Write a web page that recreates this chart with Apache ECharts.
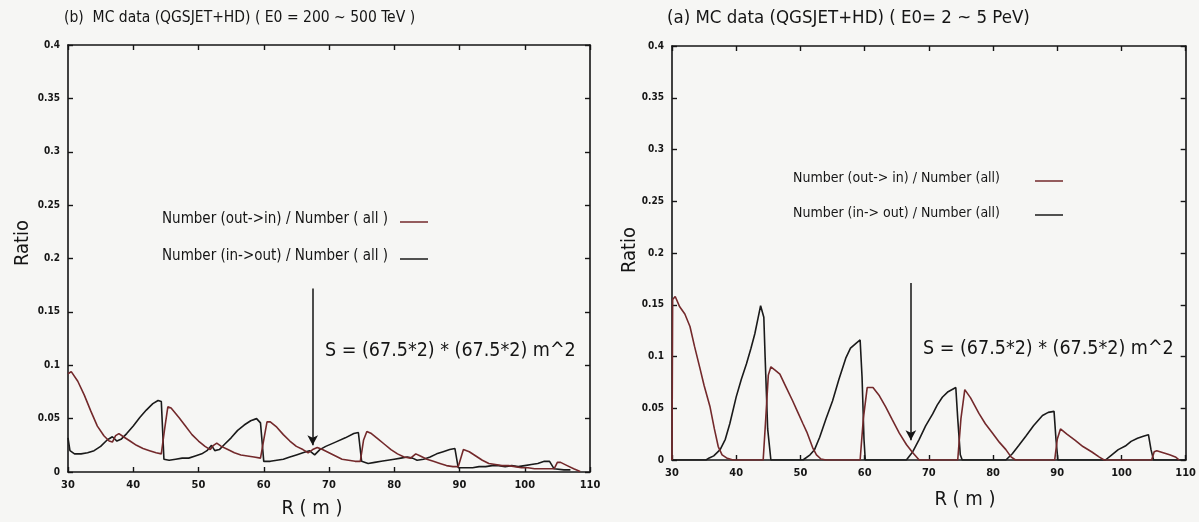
<!DOCTYPE html>
<html>
<head>
<meta charset="utf-8">
<script src="https://cdn.jsdelivr.net/npm/echarts@6/dist/echarts.min.js"></script>
<style>
html,body{margin:0;padding:0;background:#f6f6f4;}
#c{width:1199px;height:522px;}
</style>
</head>
<body>
<div id="c"></div>
<script>
// ---------- DATA ----------
const titleLeft = "(b)  MC data (QGSJET+HD) ( E0 = 200 ~ 500 TeV )";
const titleRight = "(a) MC data (QGSJET+HD) ( E0= 2 ~ 5 PeV)";
const legendLeft = ["Number (out->in) / Number ( all )", "Number (in->out) / Number ( all )"];
const legendRight = ["Number (out-> in) / Number (all)", "Number (in-> out) / Number (all)"];
const noteText = "S = (67.5*2) * (67.5*2) m^2";
const xName = "R ( m )";
const yName = "Ratio";
const xRange = [30, 110, 10];
const yRange = [0, 0.4, 0.05];
// arrow: [R, top ratio, tip ratio]
const arrowLeft = [67.5, 0.172, 0.025];
const arrowRight = [67.2, 0.171, 0.019];

// left panel (E0 = 200~500 TeV)
const leftOutIn = [[30,0.092],[30.5,0.094],[31.5,0.085],[32.5,0.072],[33.5,0.057],[34.5,0.043],[35.5,0.034],[36.3,0.029],[36.8,0.028],[37.3,0.034],[37.8,0.036],[38.5,0.033],[39.5,0.029],[40.5,0.025],[41.5,0.022],[42.5,0.020],[43.5,0.018],[44.3,0.017],[44.8,0.040],[45.3,0.061],[45.8,0.060],[47,0.051],[48,0.043],[49,0.035],[50,0.029],[51,0.024],[51.8,0.021],[52.3,0.025],[52.8,0.027],[53.5,0.024],[54.5,0.021],[55.5,0.018],[56.5,0.016],[57.5,0.015],[58.5,0.014],[59.5,0.013],[60,0.030],[60.5,0.047],[61,0.047],[62,0.042],[63,0.035],[64,0.029],[65,0.024],[66,0.021],[66.8,0.018],[67.5,0.021],[68.2,0.023],[69,0.021],[70,0.018],[71,0.015],[72,0.012],[73,0.011],[74,0.010],[74.8,0.010],[75.3,0.030],[75.8,0.038],[76.5,0.036],[77.5,0.031],[78.5,0.026],[79.5,0.021],[80.5,0.017],[81.5,0.014],[82.5,0.013],[83.3,0.017],[84,0.015],[85,0.012],[86,0.010],[87,0.008],[88,0.006],[89,0.005],[89.8,0.005],[90.3,0.015],[90.6,0.021],[91.5,0.019],[92.5,0.015],[93.5,0.011],[94.5,0.008],[95.5,0.007],[96.5,0.006],[97.5,0.006],[98.5,0.005],[99.5,0.004],[100.5,0.004],[101.5,0.003],[102.5,0.003],[103.5,0.003],[104.5,0.003],[105,0.009],[105.5,0.009],[106.5,0.006],[107.5,0.003],[108.5,0.0005]];
const leftInOut = [[30,0.032],[30.3,0.020],[31,0.017],[32,0.017],[33,0.018],[34,0.020],[35,0.024],[36,0.030],[36.8,0.033],[37.5,0.029],[38.2,0.031],[39,0.036],[40,0.043],[41,0.051],[42,0.058],[43,0.064],[43.8,0.067],[44.3,0.066],[44.7,0.012],[45.5,0.011],[46.5,0.012],[47.5,0.013],[48.5,0.013],[49.5,0.015],[50.5,0.017],[51.3,0.020],[52,0.025],[52.5,0.020],[53.2,0.021],[54,0.026],[55,0.032],[56,0.039],[57,0.044],[58,0.048],[58.9,0.050],[59.5,0.046],[60,0.010],[61,0.010],[62,0.011],[63,0.012],[64,0.014],[65,0.016],[66,0.018],[67,0.020],[67.8,0.016],[68.6,0.021],[69.5,0.024],[71,0.028],[72.5,0.032],[73.8,0.036],[74.5,0.037],[75,0.010],[76,0.008],[77,0.009],[78,0.010],[79,0.011],[80,0.012],[81,0.013],[82,0.014],[82.8,0.013],[83.5,0.011],[84.5,0.012],[85.5,0.014],[86.5,0.017],[87.5,0.019],[88.5,0.021],[89.3,0.022],[89.8,0.004],[91,0.004],[92,0.004],[93,0.005],[94,0.005],[95,0.006],[96,0.006],[97,0.005],[98,0.006],[99,0.005],[100,0.006],[101,0.007],[102,0.008],[103,0.010],[103.8,0.010],[104.5,0.003],[106,0.002],[107,0.002]];

// right panel (E0 = 2~5 PeV)
const rightOutIn = [[30,0.0],[30.1,0.155],[30.5,0.158],[31.2,0.148],[32,0.141],[32.8,0.129],[33.5,0.110],[34.3,0.090],[35,0.072],[35.9,0.052],[36.6,0.030],[37.2,0.013],[37.8,0.005],[38.5,0.002],[39.5,0.0],[44.2,0.0],[44.6,0.040],[45,0.082],[45.4,0.090],[46,0.087],[46.8,0.083],[47.8,0.070],[48.8,0.057],[49.6,0.046],[50.4,0.035],[51,0.027],[51.9,0.012],[52.5,0.005],[53.2,0.001],[54,0],[59.3,0],[59.8,0.040],[60.4,0.070],[61.3,0.070],[62.3,0.062],[63.3,0.051],[64.3,0.039],[65.4,0.026],[66.5,0.015],[67.5,0.007],[68.5,0],[74.5,0],[75,0.040],[75.6,0.068],[76.5,0.060],[77.8,0.045],[78.8,0.035],[79.9,0.026],[81,0.017],[82,0.010],[82.8,0.003],[83.5,0],[89.6,0],[90,0.020],[90.5,0.030],[91.5,0.025],[92.8,0.019],[94,0.013],[95.4,0.0077],[96.5,0.003],[97.3,0],[104.7,0],[105.1,0.008],[105.5,0.009],[106.5,0.007],[107.5,0.005],[108.4,0.003],[109,0.0]];
const rightInOut = [[30,0.0],[35.3,0],[35.8,0.002],[36.5,0.004],[37.5,0.010],[38.3,0.020],[39,0.035],[40,0.061],[40.8,0.078],[41.6,0.093],[42.3,0.108],[42.9,0.122],[43.4,0.137],[43.8,0.149],[44.3,0.138],[44.5,0.100],[44.9,0.030],[45.4,0],[50.4,0],[51.5,0.005],[52.2,0.010],[53,0.022],[54,0.040],[55,0.057],[56,0.078],[57.1,0.099],[57.8,0.108],[58.7,0.113],[59.3,0.116],[59.6,0.080],[59.9,0.020],[60.1,0],[66.5,0],[67.5,0.008],[68.5,0.020],[69.5,0.033],[70.6,0.0445],[71.3,0.053],[72.1,0.0606],[73,0.066],[74.2,0.070],[74.5,0.040],[74.9,0.005],[75.2,0],[82,0],[83,0.006],[84,0.014],[85.1,0.023],[86.3,0.033],[87.7,0.043],[88.6,0.046],[89.5,0.047],[89.8,0.020],[90.1,0],[97.5,0],[98.5,0.005],[99.5,0.010],[100.6,0.0135],[101.5,0.018],[102.5,0.021],[103.4,0.023],[104.2,0.0245],[104.6,0.010],[105,0],[110,0]];

// ---------- STYLE ----------
const FONT = "'Liberation Sans Narrow','DejaVu Sans Condensed','Liberation Sans',Arial,sans-serif";
const BROWN = '#73292b';
const BLACK = '#1a1a1a';
const INK = '#151515';

function fmt(v){ return String(+v.toFixed(2)); }

function xAxes(gi){
  const base = {type:'value', min:xRange[0], max:xRange[1], interval:xRange[2], gridIndex:gi,
    splitLine:{show:false},
    axisLine:{show:true,onZero:false,lineStyle:{color:INK,width:1.6}},
    axisTick:{show:true,inside:true,length:5,lineStyle:{color:INK,width:1.4}}};
  return [
    Object.assign({}, base, {position:'bottom', axisLabel:{show:true,color:INK,fontFamily:FONT,fontSize:11,fontWeight:'bold',margin:8,formatter:fmt}}),
    Object.assign({}, base, {position:'top', axisLabel:{show:false}})
  ];
}
function yAxes(gi){
  const base = {type:'value', min:yRange[0], max:yRange[1], interval:yRange[2], gridIndex:gi,
    splitLine:{show:false},
    axisLine:{show:true,onZero:false,lineStyle:{color:INK,width:1.6}},
    axisTick:{show:true,inside:true,length:5,lineStyle:{color:INK,width:1.4}}};
  return [
    Object.assign({}, base, {position:'left', axisLabel:{show:true,color:INK,fontFamily:FONT,fontSize:10,fontWeight:'bold',margin:8,formatter:fmt}}),
    Object.assign({}, base, {position:'right', axisLabel:{show:false}})
  ];
}

function arrowLine(a){
  return {
    silent:true, symbol:['none','arrow'], symbolSize:[8,10],
    lineStyle:{color:INK,width:1.5,type:'solid'},
    itemStyle:{color:INK},
    label:{show:false}, emphasis:{disabled:true},
    data:[[{coord:[a[0],a[1]]},{coord:[a[0],a[2]]}]]
  };
}

function line(name, data, color, xi, yi, extra){
  return Object.assign({
    type:'line', name, data, xAxisIndex:xi, yAxisIndex:yi,
    showSymbol:false, symbol:'none', smooth:false, animation:false,
    lineStyle:{color, width:1.6}, itemStyle:{color}, z:3
  }, extra||{});
}

function txt(text, x, y, size, align, extra){
  return Object.assign({type:'text', x, y, silent:true,
    style:{text, fill:INK, font: size + 'px ' + FONT, align:align||'left', verticalAlign:'middle'}}, extra||{});
}
function seg(x1,y1,x2,y2,color){
  return {type:'line', silent:true, shape:{x1,y1,x2,y2}, style:{stroke:color,lineWidth:1.5}};
}

const chart = echarts.init(document.getElementById('c'), null, {renderer:'canvas'});
chart.setOption({
  backgroundColor:'#f6f6f4',
  animation:false,
  grid:[
    {left:68, top:45, width:522, height:427},
    {left:672, top:46, width:515, height:414}
  ],
  xAxis:[...xAxes(0), ...xAxes(1)],
  yAxis:[...yAxes(0), ...yAxes(1)],
  series:[
    line(legendLeft[1], leftInOut, BLACK, 0, 0),
    line(legendLeft[0], leftOutIn, BROWN, 0, 0, {markLine:arrowLine(arrowLeft)}),
    line(legendRight[1], rightInOut, BLACK, 2, 2),
    line(legendRight[0], rightOutIn, BROWN, 2, 2, {markLine:arrowLine(arrowRight)})
  ],
  graphic:[
    txt(titleLeft, 64, 18, 15.5, 'left'),
    txt(titleRight, 667, 18, 18.5, 'left'),
    txt(legendLeft[0], 162, 219, 15, 'left'),
    txt(legendLeft[1], 162, 256, 15, 'left'),
    seg(400, 222, 428, 222, BROWN),
    seg(400, 259, 428, 259, BLACK),
    txt(legendRight[0], 793, 178, 14, 'left'),
    txt(legendRight[1], 793, 213, 14, 'left'),
    seg(1035, 181, 1063, 181, BROWN),
    seg(1035, 215, 1063, 215, BLACK),
    txt(noteText, 325, 351, 19.5, 'left'),
    txt(noteText, 923, 349, 19.5, 'left'),
    txt(xName, 312, 509, 20, 'center'),
    txt(xName, 965, 500, 20, 'center'),
    txt(yName, 23, 243, 20, 'center', {rotation:Math.PI/2}),
    txt(yName, 630, 250, 20, 'center', {rotation:Math.PI/2})
  ]
});
</script>
</body>
</html>
